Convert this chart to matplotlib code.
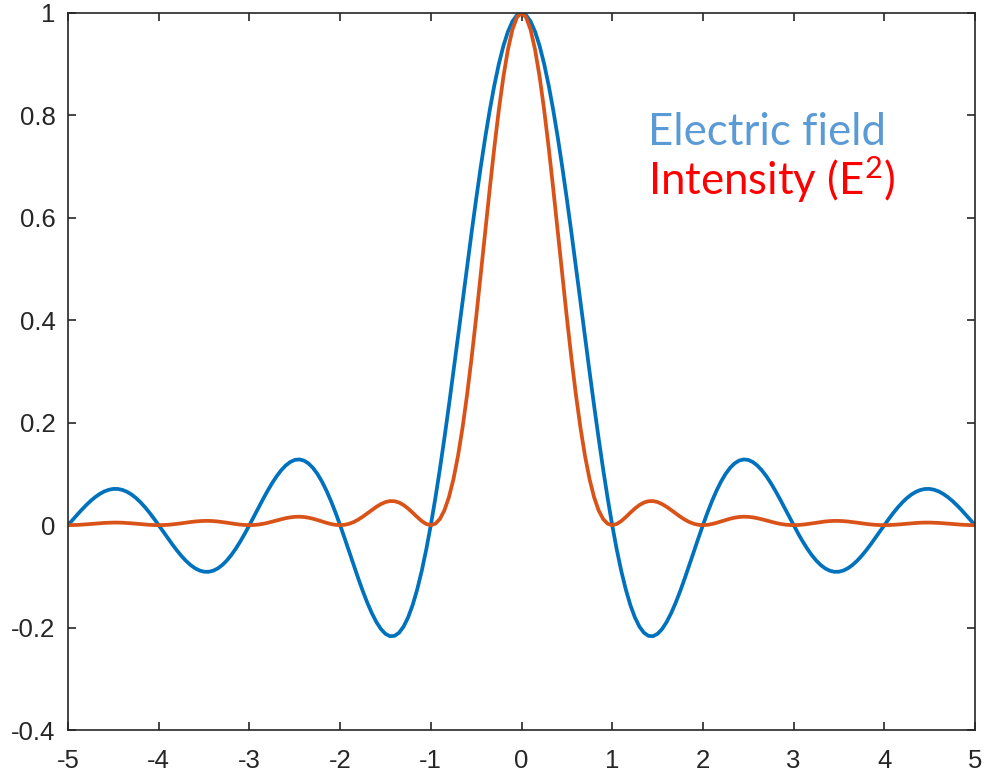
import numpy as np
import matplotlib
matplotlib.use("Agg")
from matplotlib import pyplot as plt

# sample positions, step 0.05 from -5 to 5
x = np.linspace(-5, 5, 201)

# electric field
field = [
    0.0, 0.01006, 0.02007, 0.02980, 0.03898, 0.04739, 0.05479, 0.06099, 0.06581, 0.06910,
    0.07074, 0.07065, 0.06880, 0.06520, 0.05989, 0.05296, 0.04455, 0.03482, 0.02399, 0.01229,
    0.0, -0.01261, -0.02522, -0.03754, -0.04924, -0.06002, -0.06960, -0.07770, -0.08409, -0.08856,
    -0.09095, -0.09113, -0.08904, -0.08466, -0.07804, -0.06926, -0.05847, -0.04588, -0.03173, -0.01633,
    0.0, 0.01688, 0.03392, 0.05070, 0.06682, 0.08185, 0.09538, 0.10702, 0.11643, 0.12329,
    0.12732, 0.12832, 0.12614, 0.12069, 0.11196, 0.10004, 0.08504, 0.06721, 0.04684, 0.02429,
    0.0, -0.02554, -0.05177, -0.07811, -0.10394, -0.12862, -0.15148, -0.17189, -0.18921, -0.20283,
    -0.21221, -0.21682, -0.21624, -0.21009, -0.19809, -0.18006, -0.15591, -0.12566, -0.08942, -0.04742,
    0.0, 0.05242, 0.10929, 0.17001, 0.23387, 0.30011, 0.36788, 0.43633, 0.50455, 0.57162,
    0.63662, 0.69865, 0.75683, 0.81033, 0.85839, 0.90032, 0.93549, 0.96340, 0.98363, 0.99589,
    1.0,
    0.99589, 0.98363, 0.96340, 0.93549, 0.90032, 0.85839, 0.81033, 0.75683, 0.69865, 0.63662,
    0.57162, 0.50455, 0.43633, 0.36788, 0.30011, 0.23387, 0.17001, 0.10929, 0.05242, 0.0,
    -0.04742, -0.08942, -0.12566, -0.15591, -0.18006, -0.19809, -0.21009, -0.21624, -0.21682, -0.21221,
    -0.20283, -0.18921, -0.17189, -0.15148, -0.12862, -0.10394, -0.07811, -0.05177, -0.02554, 0.0,
    0.02429, 0.04684, 0.06721, 0.08504, 0.10004, 0.11196, 0.12069, 0.12614, 0.12832, 0.12732,
    0.12329, 0.11643, 0.10702, 0.09538, 0.08185, 0.06682, 0.05070, 0.03392, 0.01688, 0.0,
    -0.01633, -0.03173, -0.04588, -0.05847, -0.06926, -0.07804, -0.08466, -0.08904, -0.09113, -0.09095,
    -0.08856, -0.08409, -0.07770, -0.06960, -0.06002, -0.04924, -0.03754, -0.02522, -0.01261, 0.0,
    0.01229, 0.02399, 0.03482, 0.04455, 0.05296, 0.05989, 0.06520, 0.06880, 0.07065, 0.07074,
    0.06910, 0.06581, 0.06099, 0.05479, 0.04739, 0.03898, 0.02980, 0.02007, 0.01006, 0.0,
]

# intensity
intensity = [
    0.0, 0.00010, 0.00040, 0.00089, 0.00152, 0.00225, 0.00300, 0.00372, 0.00433, 0.00477,
    0.00500, 0.00499, 0.00473, 0.00425, 0.00359, 0.00280, 0.00198, 0.00121, 0.00058, 0.00015,
    0.0, 0.00016, 0.00064, 0.00141, 0.00242, 0.00360, 0.00484, 0.00604, 0.00707, 0.00784,
    0.00827, 0.00830, 0.00793, 0.00717, 0.00609, 0.00480, 0.00342, 0.00210, 0.00101, 0.00027,
    0.0, 0.00028, 0.00115, 0.00257, 0.00446, 0.00670, 0.00910, 0.01145, 0.01356, 0.01520,
    0.01621, 0.01647, 0.01591, 0.01457, 0.01254, 0.01001, 0.00723, 0.00452, 0.00219, 0.00059,
    0.0, 0.00065, 0.00268, 0.00610, 0.01080, 0.01654, 0.02295, 0.02955, 0.03580, 0.04114,
    0.04503, 0.04701, 0.04676, 0.04414, 0.03924, 0.03242, 0.02431, 0.01579, 0.00800, 0.00225,
    0.0, 0.00275, 0.01194, 0.02890, 0.05470, 0.09007, 0.13533, 0.19038, 0.25457, 0.32675,
    0.40528, 0.48811, 0.57279, 0.65663, 0.73683, 0.81058, 0.87514, 0.92814, 0.96753, 0.99180,
    1.0,
    0.99180, 0.96753, 0.92814, 0.87514, 0.81058, 0.73683, 0.65663, 0.57279, 0.48811, 0.40528,
    0.32675, 0.25457, 0.19038, 0.13533, 0.09007, 0.05470, 0.02890, 0.01194, 0.00275, 0.0,
    0.00225, 0.00800, 0.01579, 0.02431, 0.03242, 0.03924, 0.04414, 0.04676, 0.04701, 0.04503,
    0.04114, 0.03580, 0.02955, 0.02295, 0.01654, 0.01080, 0.00610, 0.00268, 0.00065, 0.0,
    0.00059, 0.00219, 0.00452, 0.00723, 0.01001, 0.01254, 0.01457, 0.01591, 0.01647, 0.01621,
    0.01520, 0.01356, 0.01145, 0.00910, 0.00670, 0.00446, 0.00257, 0.00115, 0.00028, 0.0,
    0.00027, 0.00101, 0.00210, 0.00342, 0.00480, 0.00609, 0.00717, 0.00793, 0.00830, 0.00827,
    0.00784, 0.00707, 0.00604, 0.00484, 0.00360, 0.00242, 0.00141, 0.00064, 0.00016, 0.0,
    0.00015, 0.00058, 0.00121, 0.00198, 0.00280, 0.00359, 0.00425, 0.00473, 0.00499, 0.00500,
    0.00477, 0.00433, 0.00372, 0.00300, 0.00225, 0.00152, 0.00089, 0.00040, 0.00010, 0.0,
]

x_ticks = [-5, -4, -3, -2, -1, 0, 1, 2, 3, 4, 5]
y_ticks = [-0.4, -0.2, 0, 0.2, 0.4, 0.6, 0.8, 1]
y_tick_labels = ["-0.4", "-0.2", "0", "0.2", "0.4", "0.6", "0.8", "1"]

plt.rcParams["font.family"] = "Liberation Sans"
plt.rcParams["mathtext.default"] = "regular"

fig = plt.figure(figsize=(9.84, 7.77), dpi=100)
# axes box in pixels: left 68, right 975, top 13, bottom 730
ax = fig.add_axes([68 / 984, 47 / 777, 907 / 984, 717 / 777])

ax.plot(x, field, color="#0072BD", lw=2.7, solid_capstyle="butt")
ax.plot(x, intensity, color="#D95319", lw=2.7, solid_capstyle="butt")

ax.set_xlim(-5, 5)
ax.set_ylim(-0.4, 1)
ax.set_xticks(x_ticks)
ax.set_xticklabels([str(t) for t in x_ticks])
ax.set_yticks(y_ticks)
ax.set_yticklabels(y_tick_labels)

for s in ax.spines.values():
    s.set_color("#262626")
    s.set_linewidth(1.2)
ax.tick_params(direction="in", length=6, width=1.2, color="#262626",
               top=True, right=True, labelsize=18.5, labelcolor="#262626")
ax.tick_params(axis="x", pad=14)
ax.tick_params(axis="y", pad=9)

ax.text(1.395, 0.742, "Electric field", color="#5B9BD5", fontsize=31.5,
        family="Lato", va="baseline", ha="left")
ax.text(1.395, 0.645, "Intensity (E$^{2}$)", color="#FF0000", fontsize=31.5,
        family="Lato", va="baseline", ha="left")

fig.savefig("out.png", dpi=100)
